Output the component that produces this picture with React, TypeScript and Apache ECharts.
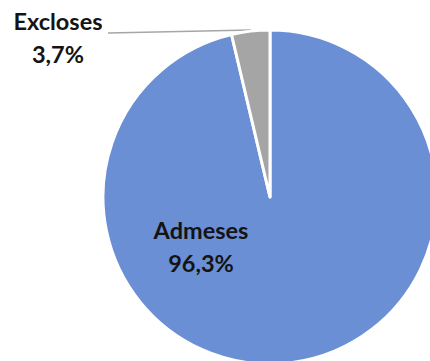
import React, { useEffect, useRef } from "react";
import * as echarts from "echarts";

const categories = ["Admeses", "Excloses"];
const values = [96.3, 3.7];
const colors = ["#6b8fd4", "#a5a5a5"];

export default function App() {
  const ref = useRef<HTMLDivElement>(null);
  useEffect(() => {
    document.body.style.margin = "0";
    const chart = echarts.init(ref.current!, null, { renderer: "svg" });
    chart.setOption({
      animation: false,
      backgroundColor: "#ffffff",
      series: [
        {
          type: "pie",
          center: [270, 197],
          radius: 167,
          startAngle: 90,
          clockwise: true,
          itemStyle: { borderColor: "#ffffff", borderWidth: 3 },
          label: {
            show: true,
            fontFamily: "Lato",
            fontWeight: "bold",
            fontSize: 23.5,
            lineHeight: 33,
            color: "#141414",
            formatter: (p: any) =>
              p.name + "\n" + p.value.toFixed(1).replace(".", ",") + "%",
          },
          labelLine: {
            show: true,
            lineStyle: { color: "#a6a6a6", width: 1.5 },
          },
          labelLayout: (params: any) => {
            if (params.dataIndex === 0) {
              return { x: 201, y: 246, align: "center", verticalAlign: "middle" };
            }
            return {
              x: 58,
              y: 37,
              align: "center",
              verticalAlign: "middle",
              labelLinePoints: [
                [251, 30],
                [180, 31.5],
                [108, 33],
              ],
            };
          },
          data: categories.map((c, i) => ({
            name: c,
            value: values[i],
            itemStyle: { color: colors[i] },
            label: { position: i === 0 ? "inside" : "outside" },
            labelLine: { show: i === 1 },
          })),
        },
      ],
    });
    return () => chart.dispose();
  }, []);
  return <div ref={ref} style={{ width: 430, height: 361 }} />;
}
